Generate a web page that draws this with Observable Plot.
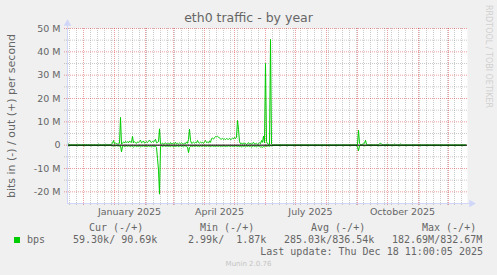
<!DOCTYPE html>
<html><head><meta charset="utf-8">
<script src="https://cdn.jsdelivr.net/npm/d3@7"></script>
<script src="https://cdn.jsdelivr.net/npm/@observablehq/plot@0.6"></script>
<style>
html,body{margin:0;padding:0;background:#f0f0f0;}
#wrap{position:relative;width:497px;height:275px;overflow:hidden;background:#f0f0f0;font-family:"DejaVu Sans",sans-serif;color:#666;}
#wrap svg{position:absolute;left:0;top:0;}
.t{position:absolute;white-space:pre;line-height:1;}
.mono{font-family:"DejaVu Sans Mono",monospace;font-size:10px;}
</style></head><body><div id="wrap"></div>
<script>
// Daily values, Mbit/s, first day 2024-11-15
const outMbps = [
0.2,0.5,0.2,0.1,0.2,0.1,0.2,0.1,0.2,0.1,
0.4,0.1,0.2,0.1,0.1,0.2,0.1,0.3,0.1,0.2,
0.1,0.2,0.1,0.1,0.2,0.1,0.1,0.2,0.1,0.1,
0.2,0.5,0.1,0.2,0.1,0.1,0.2,0.1,0.4,0.1,
0.2,0.1,0.2,0.3,0.5,0.8,2.0,0.6,0.9,0.7,
0.5,0.6,0.8,11.9,0.4,1.0,1.4,0.9,1.6,1.2,
1.5,1.0,1.8,1.3,1.2,3.8,1.0,1.5,1.1,0.8,
1.4,1.2,1.6,2.1,1.0,1.3,1.8,0.9,1.2,1.5,
1.1,1.7,2.2,1.4,1.2,1.6,1.3,1.9,2.5,1.0,
1.2,1.5,7.0,0.6,0.5,0.9,0.4,0.7,1.0,0.5,
0.6,0.8,0.4,1.1,0.5,0.7,0.9,0.5,1.2,0.6,
0.8,0.5,0.9,0.6,1.0,0.7,0.5,0.8,0.6,1.4,
0.8,2.5,6.9,2.0,0.8,1.0,1.3,0.9,1.2,1.0,
2.0,1.1,0.9,1.3,1.0,1.2,0.8,1.5,2.0,1.1,
1.3,1.0,1.8,1.2,2.8,3.0,2.6,3.2,3.7,3.6,
3.8,3.5,3.0,2.7,2.6,2.9,2.5,2.7,2.4,2.8,
2.6,2.5,2.9,2.4,2.6,3.0,2.7,3.3,2.8,3.5,
10.6,6.8,1.5,0.6,0.9,0.4,1.0,0.5,0.8,0.3,
0.6,1.1,0.5,0.7,0.4,0.9,1.2,0.5,0.6,0.8,
0.4,0.7,1.0,0.6,2.0,1.2,3.9,1.0,35.0,1.5,
0.6,0.4,0.3,45.3,0.5,0.1,0.1,0.1,0.1,0.1,
0.1,0.1,0.1,0.2,0.1,0.1,0.1,0.1,0.1,0.1,
0.2,0.1,0.1,0.1,0.1,0.1,0.1,0.2,0.1,0.1,
0.1,0.1,0.1,0.1,0.2,0.1,0.1,0.1,0.1,0.1,
0.1,0.2,0.1,0.1,0.1,0.1,0.1,0.1,0.2,0.1,
0.1,0.1,0.1,0.1,0.1,0.2,0.1,0.1,0.1,0.1,
0.1,0.1,0.2,0.1,0.1,0.1,0.1,0.1,0.1,0.2,
0.1,0.1,0.1,0.1,0.1,0.1,0.2,0.1,0.1,0.1,
0.1,0.1,0.1,0.2,0.1,0.1,0.1,0.1,0.1,0.1,
0.3,6.4,0.8,0.3,0.2,0.4,0.6,0.8,2.1,0.4,
0.1,0.1,0.1,0.1,0.2,0.1,0.1,0.1,0.1,0.1,
0.1,0.2,0.6,0.8,0.6,0.1,0.1,0.1,0.2,0.1,
0.6,0.1,0.1,0.1,0.1,0.2,0.1,0.5,0.1,0.1,
0.1,0.1,0.2,0.5,0.1,0.1,0.1,0.1,0.1,0.2,
0.1,0.1,0.1,0.1,0.1,0.1,0.2,0.1,0.1,0.1,
0.1,0.1,0.1,0.2,0.1,0.1,0.1,0.1,0.1,0.1,
0.2,0.1,0.1,0.1,0.1,0.1,0.1,0.2,0.1,0.1,
0.1,0.1,0.1,0.1,0.2,0.1,0.1,0.1,0.1,0.1,
0.1,0.2,0.1,0.1,0.1,0.1,0.1,0.1,0.2,0.1,
0.1,0.1,0.1,0.1,0.1,0.2,0.1,0.1,0.1
];
const inMbps = [
-0.1,-0.3,-0.1,-0.1,-0.1,-0.1,-0.1,-0.1,-0.1,-0.1,
-0.3,-0.1,-0.1,-0.1,-0.1,-0.1,-0.1,-0.3,-0.1,-0.1,
-0.1,-0.1,-0.1,-0.1,-0.3,-0.1,-0.1,-0.1,-0.1,-0.1,
-0.1,-0.3,-0.1,-0.1,-0.1,-0.1,-0.1,-0.1,-0.3,-0.1,
-0.1,-0.1,-0.1,-0.1,-0.1,-0.3,-0.4,-0.2,-0.3,-0.2,
-0.3,-0.2,-0.4,-0.3,-2.9,-0.5,-0.3,-0.6,-0.4,-0.3,
-0.5,-0.3,-0.4,-0.6,-0.3,-0.5,-0.8,-0.4,-0.3,-0.6,
-0.4,-0.5,-0.3,-0.7,-0.4,-0.5,-0.3,-0.6,-0.4,-0.5,
-0.6,-0.3,-0.5,-0.4,-0.8,-0.3,-0.5,-0.6,-0.4,-1.0,
-5.7,-10.7,-21.0,-0.5,-0.3,-0.6,-0.4,-0.3,-0.5,-0.4,
-0.3,-0.5,-0.4,-0.6,-0.3,-0.4,-0.8,-0.3,-0.5,-0.4,
-0.3,-0.6,-0.4,-0.3,-0.5,-0.4,-0.7,-0.3,-0.4,-0.6,
-0.8,-3.2,-1.0,-0.5,-0.4,-0.6,-0.3,-0.5,-0.4,-0.3,
-0.5,-0.4,-0.6,-0.3,-0.5,-0.4,-0.3,-0.6,-0.4,-0.5,
-0.3,-0.5,-0.4,-0.6,-0.4,-0.3,-0.5,-0.4,-0.6,-0.3,
-0.4,-0.5,-0.3,-0.6,-0.4,-0.5,-0.3,-0.4,-0.6,-0.4,
-0.5,-0.3,-0.4,-0.6,-0.3,-0.5,-0.4,-0.6,-0.3,-0.4,
-0.5,-0.4,-0.6,-0.3,-0.8,-0.4,-0.5,-0.3,-0.7,-0.4,
-0.5,-0.3,-0.6,-0.4,-0.8,-0.5,-0.3,-0.6,-0.4,-0.7,
-0.4,-0.3,-0.5,-0.8,-0.7,-0.9,-0.6,-0.7,-0.3,-0.5,
-0.4,-0.3,-0.5,-0.2,-0.3,-0.1,-0.1,-0.1,-0.1,-0.1,
-0.1,-0.1,-0.1,-0.3,-0.1,-0.1,-0.1,-0.1,-0.1,-0.1,
-0.3,-0.1,-0.1,-0.1,-0.1,-0.1,-0.1,-0.3,-0.1,-0.1,
-0.1,-0.1,-0.1,-0.1,-0.3,-0.1,-0.1,-0.1,-0.1,-0.1,
-0.1,-0.3,-0.1,-0.1,-0.1,-0.1,-0.1,-0.1,-0.3,-0.1,
-0.1,-0.1,-0.1,-0.1,-0.1,-0.3,-0.1,-0.1,-0.1,-0.1,
-0.1,-0.1,-0.3,-0.1,-0.1,-0.1,-0.1,-0.1,-0.1,-0.3,
-0.1,-0.1,-0.1,-0.1,-0.1,-0.1,-0.3,-0.1,-0.1,-0.1,
-0.1,-0.1,-0.1,-0.3,-0.1,-0.1,-0.1,-0.1,-0.1,-0.1,
-0.9,-2.4,-0.3,-0.1,-0.1,-0.1,-0.1,-0.3,-0.2,-0.1,
-0.1,-0.1,-0.1,-0.1,-0.3,-0.1,-0.1,-0.1,-0.1,-0.1,
-0.1,-0.3,-0.2,-0.2,-0.2,-0.1,-0.1,-0.1,-0.3,-0.1,
-0.2,-0.1,-0.1,-0.1,-0.1,-0.3,-0.1,-0.2,-0.1,-0.1,
-0.1,-0.1,-0.3,-0.2,-0.1,-0.1,-0.1,-0.1,-0.1,-0.3,
-0.1,-0.1,-0.1,-0.1,-0.1,-0.1,-0.3,-0.1,-0.1,-0.1,
-0.1,-0.1,-0.1,-0.3,-0.1,-0.1,-0.1,-0.1,-0.1,-0.1,
-0.3,-0.1,-0.1,-0.1,-0.1,-0.1,-0.1,-0.3,-0.1,-0.1,
-0.1,-0.1,-0.1,-0.1,-0.3,-0.1,-0.1,-0.1,-0.1,-0.1,
-0.1,-0.3,-0.1,-0.1,-0.1,-0.1,-0.1,-0.1,-0.3,-0.1,
-0.1,-0.1,-0.1,-0.1,-0.1,-0.3,-0.1,-0.1,-0.1
];
const yMajorTicks = [-20,-10,0,10,20,30,40,50];
const yMinorTicks = [-15,-5,5,15,25,35,45];
const xLabelDates = ["2025-01-16","2025-04-16","2025-07-16","2025-10-16"];
const xLabels = ["January 2025","April 2025","July 2025","October 2025"];
const legendHeaders = ["Cur (-/+)","Min (-/+)","Avg (-/+)","Max (-/+)"];
const legendValues = [" 59.30k/ 90.69k","  2.99k/  1.87k","285.03k/836.54k","182.69M/832.67M"];

const DAY = 864e5;
const start = new Date(Date.UTC(2024,10,15));
const end = new Date(Date.UTC(2025,11,20));
const rows = outMbps.map((v,i)=>({date:new Date(+start + i*DAY), out:v, inn:inMbps[i]}));
const months = d3.utcMonth.range(start, end);
const weeks = d3.utcSunday.range(start, end).filter(d => d.getUTCDate() !== 1);
const labelDates = xLabelDates.map(s => new Date(s));
const AXIS = "#CFD6F8";
const GRID = "#8c8c8c", MGRID = "#d00000";

const plot = Plot.plot({
  width: 497, height: 220,
  marginLeft: 67, marginRight: 30, marginTop: 28, marginBottom: 17,
  style: {background: "transparent", fontFamily: "DejaVu Sans, sans-serif", color: "#666", overflow: "visible"},
  x: {type: "utc", domain: [start, end]},
  y: {domain: [-25, 50]},
  marks: [
    Plot.frame({fill: "#fff", stroke: null}),
    Plot.ruleX(weeks, {stroke: GRID, strokeOpacity: 0.45, strokeDasharray: "1,1", insetBottom: -3}),
    Plot.ruleY(yMinorTicks, {stroke: GRID, strokeOpacity: 0.45, strokeDasharray: "1,1", insetLeft: -3}),
    Plot.ruleX(months, {stroke: MGRID, strokeOpacity: 0.38, strokeDasharray: "1,1", insetBottom: -3}),
    Plot.ruleY(yMajorTicks, {stroke: MGRID, strokeOpacity: 0.38, strokeDasharray: "1,1", insetLeft: -3}),
    Plot.line(rows, {x: "date", y: "out", stroke: "#00cc00", strokeWidth: 1}),
    Plot.line(rows, {x: "date", y: "inn", stroke: "#00cc00", strokeWidth: 1}),
    Plot.ruleY([0], {stroke: "#000", strokeWidth: 1}),
    Plot.ruleX([start], {stroke: AXIS, insetTop: -5}),
    Plot.ruleY([-25], {stroke: AXIS, insetRight: -4}),
    Plot.dot([0], {frameAnchor: "top-left", symbol: "triangle", r: 2.8, fill: AXIS, stroke: null, dy: -5}),
    Plot.dot([0], {frameAnchor: "bottom-right", symbol: "triangle", r: 2.8, fill: AXIS, stroke: null, rotate: 90, dx: 4}),
    Plot.axisY({ticks: yMajorTicks, tickFormat: d => d === 0 ? "0" : `${d} M`, tickSize: 0, tickPadding: 7, fontSize: 9.5, label: null}),
    Plot.axisX({ticks: labelDates, tickFormat: (d, i) => xLabels[i], tickSize: 0, tickPadding: 5, fontSize: 9.5, label: null})
  ]
});
const wrap = document.getElementById("wrap");
wrap.appendChild(plot);

function addText(txt, cls, style) {
  const d = document.createElement("div");
  d.className = "t " + cls;
  d.textContent = txt;
  Object.assign(d.style, style);
  wrap.appendChild(d);
  return d;
}
addText("eth0 traffic - by year", "", {left: "0", width: "497px", textAlign: "center", top: "11.5px", fontSize: "12.5px", color: "#666"});
addText("bits in (-) / out (+) per second", "", {left: "10.5px", top: "115.5px", fontSize: "11px", color: "#666", transform: "translate(-50%,-50%) rotate(-90deg)"});
const hdrLeft = [89, 200, 311, 422];
const valLeft = [67, 176, 284, 392];
legendHeaders.forEach((h, i) => addText(h, "mono", {left: hdrLeft[i] + "px", top: "222.5px"}));
legendValues.forEach((v, i) => addText(v, "mono", {left: valLeft[i] + "px", top: "234.5px"}));
addText("bps", "mono", {left: "27px", top: "234.5px"});
const sq = document.createElement("div");
Object.assign(sq.style, {position: "absolute", left: "14px", top: "237px", width: "6px", height: "6px", background: "#00cc00"});
wrap.appendChild(sq);
addText("Last update: Thu Dec 18 11:00:05 2025", "mono", {right: "14px", top: "246.5px"});
addText("Munin 2.0.76", "", {left: "0", width: "497px", textAlign: "center", top: "260.5px", fontSize: "7px", color: "#c4c4c4"});
addText("RRDTOOL / TOBI OETIKER", "", {left: "484px", top: "5px", fontSize: "8px", color: "#d0d0d0", writingMode: "vertical-rl"});
</script>
</body></html>
